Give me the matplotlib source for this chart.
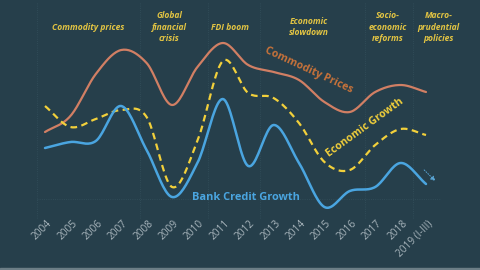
import numpy as np
import matplotlib
matplotlib.use('Agg')
import matplotlib.pyplot as plt

years = ['2004', '2005', '2006', '2007', '2008', '2009', '2010', '2011', '2012',
         '2013', '2014', '2015', '2016', '2017', '2018', '2019 (I-III)']
# relative levels (no scale shown on the original)
commodity = [138, 154, 196, 220, 207, 165, 203, 227, 205, 198, 190, 168, 158, 178, 185, 178]
econ = [164, 143, 151, 160, 153, 83, 129, 209, 177, 172, 147, 108, 100, 125, 141, 135]
credit = [122, 128, 129, 164, 120, 73, 107, 171, 104, 145, 107, 63, 79, 83, 107, 86]

periods = ['Commodity prices', 'Global\nfinancial\ncrisis', 'FDI boom', 'Economic\nslowdown',
           'Socio-\neconomic\nreforms', 'Macro-\nprudential\npolicies']
period_x = [1.7, 4.9, 7.3, 10.4, 13.5, 15.5]
period_bounds = [-0.3, 3.75, 6.4, 8.45, 12.6, 14.5]

bg = '#263f4b'
c_orange = '#d17f64'
c_yellow = '#f2d03b'
c_blue = '#4aa5e0'
c_note = '#e2c443'


def smooth(y, n=20):
    # catmull-rom through the points
    y = np.asarray(y, float)
    p = np.concatenate([[2 * y[0] - y[1]], y, [2 * y[-1] - y[-2]]])
    xs, ys = [], []
    for i in range(len(y) - 1):
        t = np.linspace(0, 1, n, endpoint=False)
        p0, p1, p2, p3 = p[i], p[i + 1], p[i + 2], p[i + 3]
        v = 0.5 * ((2 * p1) + (-p0 + p2) * t + (2 * p0 - 5 * p1 + 4 * p2 - p3) * t ** 2
                   + (-p0 + 3 * p1 - 3 * p2 + p3) * t ** 3)
        xs.append(i + t)
        ys.append(v)
    xs.append([len(y) - 1])
    ys.append([y[-1]])
    return np.concatenate(xs), np.concatenate(ys)


fig = plt.figure(figsize=(4.8, 2.7), dpi=100)
fig.patch.set_facecolor(bg)
ax = fig.add_axes([0, 0, 1, 1])
ax.set_facecolor(bg)
ax.set_xlim(-1.772, 17.126)
ax.set_ylim(0, 270)
for s in ax.spines.values():
    s.set_visible(False)
ax.set_yticks([])
ax.set_xticks([])

# faint guide lines
for b in period_bounds:
    ax.plot([b, b], [52, 268], color='#34505c', lw=0.6, ls=':')
ax.plot([-0.3, 15.6], [71, 71], color='#34505c', lw=0.6, ls=':')

x, y = smooth(commodity)
ax.plot(x, y, color=c_orange, lw=1.6, solid_capstyle='round')
x, y = smooth(econ)
ax.plot(x, y, color=c_yellow, lw=1.6, ls=(0, (3, 2)))
x, y = smooth(credit)
ax.plot(x, y, color=c_blue, lw=1.8, solid_capstyle='round')

ax.annotate('', xy=(15.45, 87), xytext=(14.85, 102),
            arrowprops=dict(arrowstyle='-|>', color='#5aa6d6', lw=0.7, ls=':',
                            mutation_scale=7))

fam = ['Open Sans', 'DejaVu Sans']
ax.text(10.4, 200, 'Commodity Prices', color='#c9733a', fontsize=7.6, fontweight='bold',
        rotation=-25, ha='center', va='center', family=fam)
ax.text(12.6, 142, 'Economic Growth', color=c_yellow, fontsize=7.6, fontweight='bold',
        rotation=36, ha='center', va='center', family=fam)
ax.text(7.9, 72, 'Bank Credit Growth', color=c_blue, fontsize=7.9, fontweight='bold',
        ha='center', va='center', family=fam)

for px, t in zip(period_x, periods):
    ax.text(px, 243, t, color=c_note, fontsize=6.1, fontweight='bold', fontstyle='italic',
            ha='center', va='center', linespacing=1.3, family=fam)

for i, t in enumerate(years):
    ax.text(i + 0.05, 52, t, color='#a7b4bb', fontsize=7.3, rotation=45,
            ha='right', va='top', rotation_mode='anchor', family=fam)

ax.axhspan(0, 2, color='#6c7e86')

fig.savefig('out.png', dpi=100, facecolor=bg)
